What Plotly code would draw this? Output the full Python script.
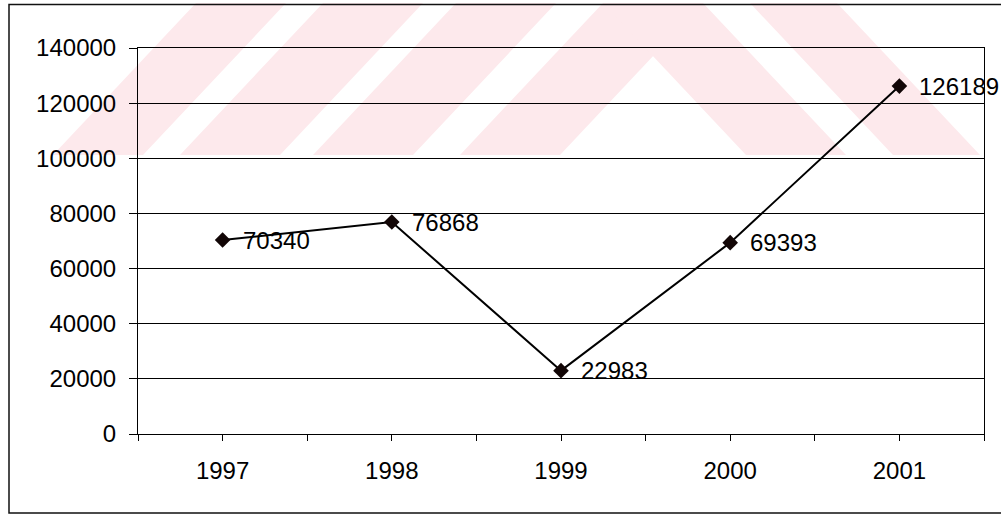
import plotly.graph_objects as go

# Yearly totals
years = [1997, 1998, 1999, 2000, 2001]
values = [70340, 76868, 22983, 69393, 126189]

W, H = 1001, 515
L, R, T, B = 138, 17, 48, 81
PW, PH = W - L - R, H - T - B
FONT = "Liberation Sans, Arial, sans-serif"


def px(x):
    return (x - L) / PW


def py(y):
    return (H - B - y) / PH


def poly(points):
    return "M " + " L ".join(f"{px(x):.5f},{py(y):.5f}" for x, y in points) + " Z"


fig = go.Figure()

fig.add_trace(go.Scatter(
    x=years, y=values, mode="lines+markers",
    line=dict(color="#000000", width=2),
    marker=dict(symbol="diamond", size=12, color="#120606"),
    hoverinfo="skip", showlegend=False,
))

# value labels to the right of each point
annotations = [
    dict(x=xv, y=yv, text=str(yv), showarrow=False, xanchor="left", yanchor="middle",
         xshift=18, font=dict(family=FONT, size=24, color="#000000"))
    for xv, yv in zip(years, values)
]

# pale diagonal background band
pink = "#fde9ec"
shapes = []
top_y, bot_y, off = 3, 155, 143
for a, b in [(53, 143), (180, 280), (313, 413), (460, 560)]:
    shapes.append(dict(type="path", xref="paper", yref="paper", layer="below",
                       path=poly([(a, bot_y), (b, bot_y), (b + off, top_y), (a + off, top_y)]),
                       fillcolor=pink, line=dict(width=0)))
for a, b in [(603, 703), (750, 837)]:
    shapes.append(dict(type="path", xref="paper", yref="paper", layer="below",
                       path=poly([(a, top_y), (b, top_y), (b + off, bot_y), (a + off, bot_y)]),
                       fillcolor=pink, line=dict(width=0)))

# chart frame
shapes.append(dict(type="path", xref="paper", yref="paper", layer="above",
                   path="M " + " L ".join(f"{px(x):.5f},{py(y):.5f}" for x, y in
                                          [(1010, 4.5), (9, 4.5), (9, 513), (1010, 513)]),
                   line=dict(color="#111111", width=1.5)))

fig.update_layout(
    width=W, height=H, autosize=False,
    margin=dict(l=L, r=R, t=T, b=B),
    paper_bgcolor="#ffffff", plot_bgcolor="rgba(0,0,0,0)",
    font=dict(family=FONT, size=24, color="#000000"),
    annotations=annotations, shapes=shapes,
    showlegend=False,
)

fig.update_xaxes(
    range=[1996.5, 2001.5], tickmode="array", tickvals=years,
    ticktext=[str(y) for y in years],
    ticks="outside", ticklen=6, tickcolor="#000000", tickwidth=1,
    minor=dict(ticks="outside", tickmode="array", tickvals=[1996.5, 1997.5, 1998.5, 1999.5, 2000.5, 2001.5],
               ticklen=6, tickcolor="#000000", tickwidth=1, showgrid=False),
    showgrid=False, zeroline=False,
    showline=True, linecolor="#000000", linewidth=1, mirror=True,
    tickfont=dict(family=FONT, size=24, color="#000000"),
    ticklabelstandoff=9,
)

fig.update_yaxes(
    range=[0, 140000], tickmode="linear", tick0=0, dtick=20000, tickformat="d",
    ticks="outside", ticklen=8, tickcolor="#000000", tickwidth=1,
    showgrid=True, gridcolor="#000000", gridwidth=1,
    zeroline=False,
    showline=True, linecolor="#000000", linewidth=1, mirror=True,
    tickfont=dict(family=FONT, size=24, color="#000000"),
    ticklabelstandoff=8,
)

fig.write_html("out.html")
